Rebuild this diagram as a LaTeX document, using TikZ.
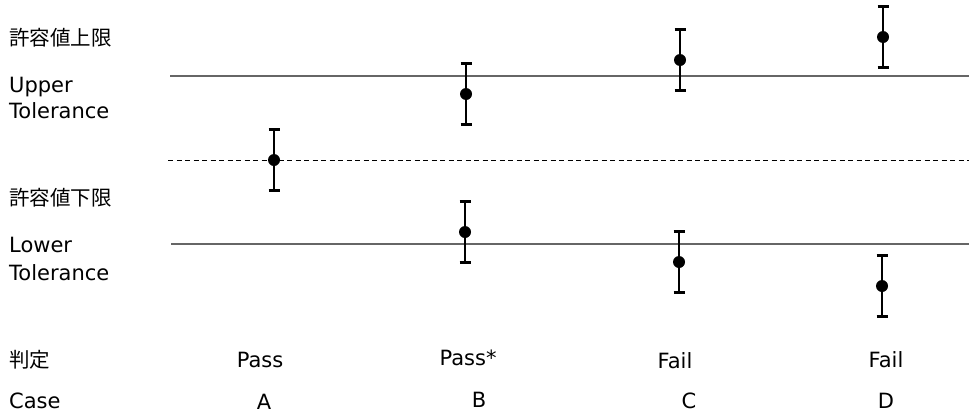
\documentclass[tikz,border=0pt]{standalone}
\usepackage{fontspec}
\setmainfont{DejaVu Sans}
\newfontfamily\jp{Noto Sans CJK JP}
\begin{document}
\begin{tikzpicture}[x=1pt,y=-1pt,
  lbl/.style={inner sep=0pt,anchor=base west,font=\fontsize{21}{25}\selectfont},
  jlbl/.style={inner sep=0pt,anchor=base west,font=\fontsize{20.5}{24}\selectfont\jp},
  clbl/.style={inner sep=0pt,anchor=base,font=\fontsize{21}{25}\selectfont},
  limline/.style={draw=black!60,line width=2pt},
  midline/.style={draw=black,line width=1pt,dash pattern=on 5pt off 3.5pt},
  dotmark/.style={circle,fill=black,inner sep=0pt,minimum size=12pt},
  errbar/.style={draw=black,line width=2.2pt}]
\useasboundingbox[fill=white] (0,0) rectangle (969,418);

% reference lines
\coordinate (ul0) at (170,76);   \coordinate (ul1) at (969,76);
\coordinate (ml0) at (168,160);  \coordinate (ml1) at (969,160);
\coordinate (ll0) at (171,243.5);\coordinate (ll1) at (969,243.5);
\draw[limline] (ul0) -- (ul1);
\draw[midline] (ml0) -- (ml1);
\draw[limline] (ll0) -- (ll1);

% error bars
\foreach \n/\x/\y in {a/274/160, bu/466/94, cu/680/60, du/883/37,
                      bl/465/232, cl/679/262, dl/882/286}{
  \draw[errbar] (\x,\y-30.5) -- (\x,\y+30.5);
  \draw[errbar] (\x-5.5,\y-30.5) -- (\x+5.5,\y-30.5);
  \draw[errbar] (\x-5.5,\y+30.5) -- (\x+5.5,\y+30.5);
  \node[dotmark] (\n) at (\x,\y) {};
}

% left labels
\node[jlbl] (uj) at (9,45.5) {許容値上限};
\node[lbl] (ue1) at (9,92) {Upper};
\node[lbl] (ue2) at (9,118.5) {Tolerance};
\node[jlbl] (lj) at (9,205.5) {許容値下限};
\node[lbl] (le1) at (9,252.5) {Lower};
\node[lbl] (le2) at (9,280) {Tolerance};
\node[jlbl] (jd) at (9,367) {判定};
\node[lbl] (cs) at (9,408.5) {Case};

% bottom labels
\node[clbl] (pa) at (260,367) {Pass};
\node[clbl] (pb) at (468,365) {Pass*};
\node[clbl] (pc) at (675,368) {Fail};
\node[clbl] (pd) at (886,367) {Fail};
\node[clbl] (ca) at (264,409) {A};
\node[clbl] (cb) at (479,407) {B};
\node[clbl] (cc) at (689,408) {C};
\node[clbl] (cd) at (886,408) {D};
\end{tikzpicture}
\end{document}
